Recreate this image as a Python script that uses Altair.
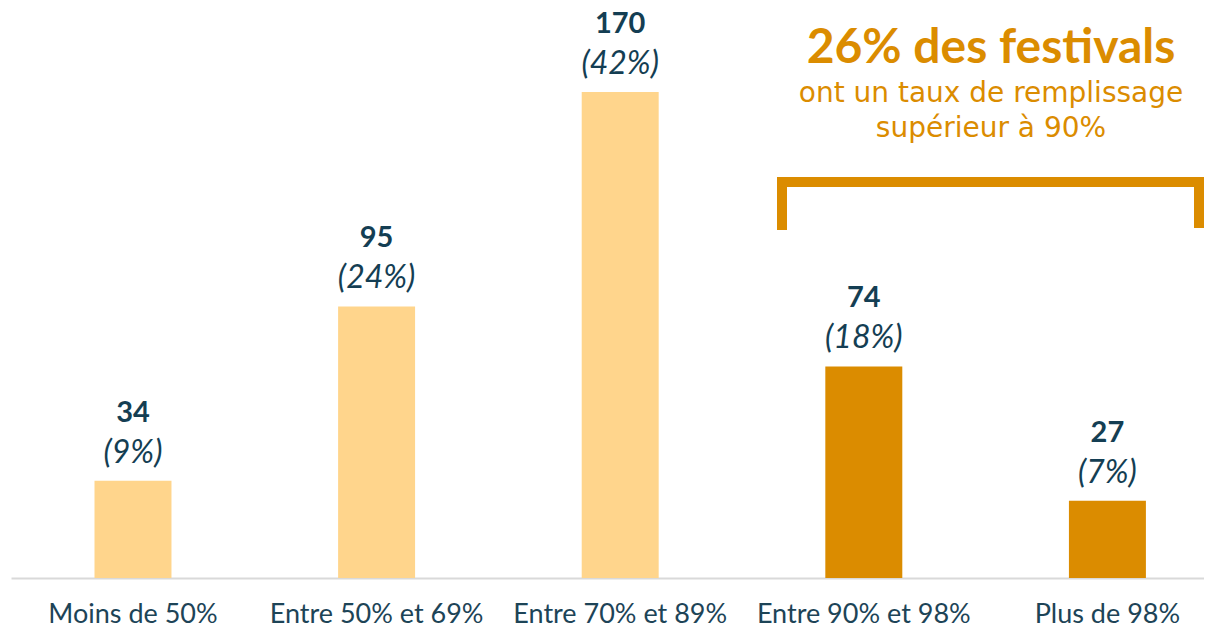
import altair as alt
import pandas as pd

categories = ["Moins de 50%", "Entre 50% et 69%", "Entre 70% et 89%", "Entre 90% et 98%", "Plus de 98%"]
counts = [34, 95, 170, 74, 27]
shares = ["(9%)", "(24%)", "(42%)", "(18%)", "(7%)"]
groups = ["bas", "bas", "bas", "haut", "haut"]

df = pd.DataFrame({"cat": categories, "n": counts, "pct": shares, "grp": groups})

FONT = "Lato"
FONT2 = "DejaVu Sans"
TEAL = "#143E53"
LABEL = "#1D4457"
ORANGE = "#DB8C00"
LIGHT = "#FFD58C"

W, H = 1193, 570

x = alt.X("cat:N", sort=categories, title=None,
          scale=alt.Scale(paddingInner=0.684, paddingOuter=0.2906, align=0.5897, round=False),
          axis=alt.Axis(labelFont=FONT, labelFontSize=27, labelColor=LABEL, labelAngle=0,
                        labelBaseline="alphabetic", labelPadding=44, ticks=False, tickSize=0,
                        domainColor="#D9D9D9", domainWidth=2, labelLimit=400, grid=False))
y = alt.Y("n:Q", scale=alt.Scale(domain=[0, 199.4], nice=False), axis=None)

base = alt.Chart(df).encode(x=x, y=y)

bars = base.mark_bar().encode(
    color=alt.Color("grp:N", scale=alt.Scale(domain=["bas", "haut"], range=[LIGHT, ORANGE]), legend=None)
)

num = base.mark_text(font=FONT, fontSize=29, fontWeight="bold", color=TEAL,
                     baseline="alphabetic", dy=-59).encode(text="n:Q")
pct = base.mark_text(font=FONT, fontSize=32, fontStyle="italic", color=TEAL,
                     baseline="alphabetic", dy=-18).encode(text="pct:N")

ann_lines = ["26% des festivals", "ont un taux de remplissage", "supérieur à 90%"]
t1 = alt.Chart(pd.DataFrame({"t": [ann_lines[0]]})).mark_text(
    font=FONT, fontSize=48, fontWeight="bold", color=ORANGE, baseline="alphabetic", align="center"
).encode(text="t:N", x=alt.value(980), y=alt.value(55))
t2 = alt.Chart(pd.DataFrame({"t": [ann_lines[1]]})).mark_text(
    font=FONT2, fontSize=28, color=ORANGE, baseline="alphabetic", align="center"
).encode(text="t:N", x=alt.value(980), y=alt.value(94))
t3 = alt.Chart(pd.DataFrame({"t": [ann_lines[2]]})).mark_text(
    font=FONT2, fontSize=28, color=ORANGE, baseline="alphabetic", align="center"
).encode(text="t:N", x=alt.value(980), y=alt.value(129))

rule_kw = dict(color=ORANGE, strokeWidth=10, strokeCap="butt")
r_top = alt.Chart(pd.DataFrame({"a": [0]})).mark_rule(**rule_kw).encode(
    x=alt.value(771), x2=alt.value(1188), y=alt.value(174))
r_left = alt.Chart(pd.DataFrame({"a": [0]})).mark_rule(**rule_kw).encode(
    x=alt.value(771), y=alt.value(169), y2=alt.value(222))
r_right = alt.Chart(pd.DataFrame({"a": [0]})).mark_rule(**rule_kw).encode(
    x=alt.value(1188), y=alt.value(169), y2=alt.value(220))

chart = alt.layer(bars, num, pct, t1, t2, t3, r_top, r_left, r_right).properties(
    width=W, height=H, background="white",
    padding={"left": 3, "top": 0, "right": 0, "bottom": 0}
).configure_view(stroke=None)

chart.save("out.html", embed_options={"renderer": "svg", "actions": False})
